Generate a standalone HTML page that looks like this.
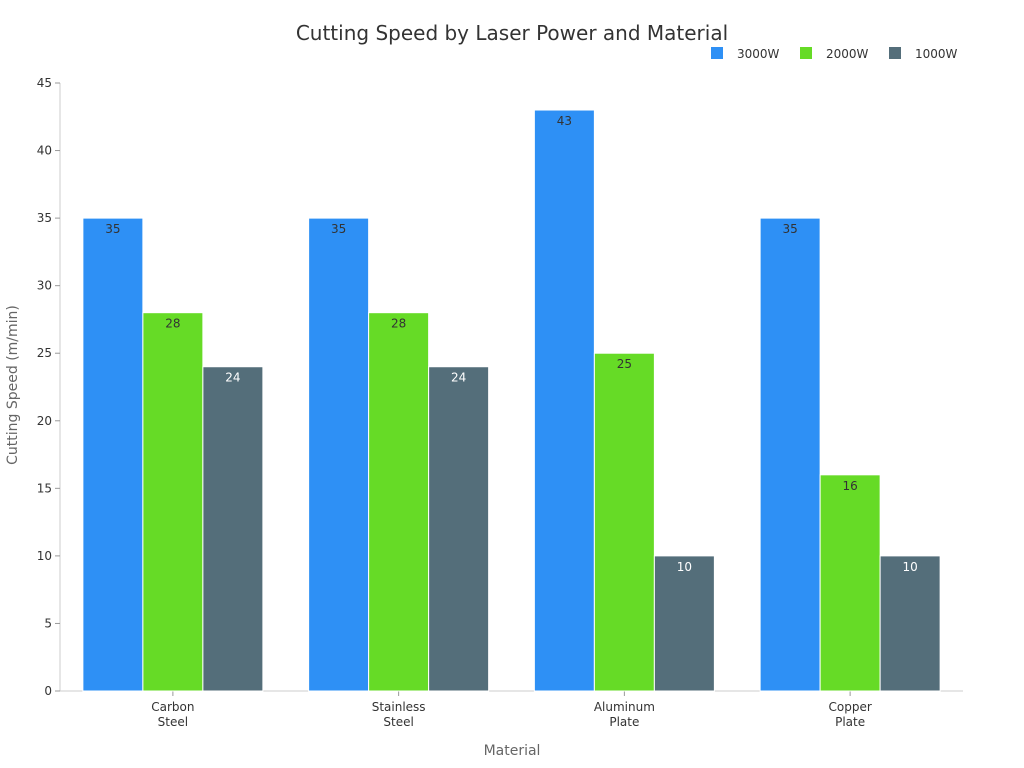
<!DOCTYPE html>
<html><head><meta charset="utf-8"><style>
body{margin:0;background:#fff;}
svg{display:block;font-family:"DejaVu Sans","Liberation Sans",sans-serif;}
</style></head><body>
<svg id="chart" width="1024" height="768">
<text x="512" y="40" text-anchor="middle" font-size="20" fill="#333">Cutting Speed by Laser Power and Material</text>
<g id="legend"></g>
<g id="axes"></g>
<g id="bars"></g>
<text x="512" y="755" text-anchor="middle" font-size="14" fill="#666">Material</text>
<text transform="translate(17,385) rotate(-90)" text-anchor="middle" font-size="14" fill="#666">Cutting Speed (m/min)</text>
</svg>
<script>
const categories=[["Carbon","Steel"],["Stainless","Steel"],["Aluminum","Plate"],["Copper","Plate"]];
const seriesNames=["3000W","2000W","1000W"];
const s3000=[35,35,43,35];
const s2000=[28,28,25,16];
const s1000=[24,24,10,10];
const yTicks=[0,5,10,15,20,25,30,35,40,45];
const colors=["#2E90F5","#66DB26","#546E7A"];
const labelColors=["#333","#333","#fff"];
const NS="http://www.w3.org/2000/svg";
const L=60,R=963,T=83,B=691,yMax=45;
const y=v=>B-(v/yMax)*(B-T);
const band=(R-L)/categories.length;
const barW=60;
function mk(tag,attrs,parent,text){const e=document.createElementNS(NS,tag);for(const k in attrs)e.setAttribute(k,attrs[k]);if(text!==undefined)e.textContent=text;parent.appendChild(e);return e;}
const axes=document.getElementById('axes');
const yl=mk('line',{x1:L,y1:T,x2:L,y2:B,stroke:'#ccc'},axes);


const xl=mk('line',{x1:L,y1:B,x2:R,y2:B,stroke:'#ccc'},axes);


yTicks.forEach(t=>{
  mk('line',{x1:L-5,y1:y(t),x2:L,y2:y(t),stroke:'#999'},axes);
  const tx=mk('text',{x:L-8,y:y(t)+4,'text-anchor':'end','font-size':12,fill:'#333'},axes,t);
  
  
});
const series=[s3000,s2000,s1000];
const bars=document.getElementById('bars');
categories.forEach((c,i)=>{
  const cx=L+band*(i+0.5);
  mk('line',{x1:cx,y1:B,x2:cx,y2:B+5,stroke:'#999'},axes);
  c.forEach((ln,j)=>{
    const tx=mk('text',{x:cx,y:B+20+j*15,'text-anchor':'middle','font-size':12,fill:'#333'},axes,ln);
    
    
  });
  series.forEach((s,k)=>{
    const x0=cx-1.5*barW+k*barW;
    const r=mk('rect',{x:x0,y:y(s[i]),width:barW,height:B-y(s[i]),fill:colors[k],stroke:'#fff','stroke-width':1},bars);
    
    
    const t=mk('text',{x:x0+barW/2,y:y(s[i])+15,'text-anchor':'middle','font-size':12,fill:labelColors[k]},bars,s[i]);
    
    
  });
});
const lg=document.getElementById('legend');
const lx=[711,800,889];
seriesNames.forEach((n,k)=>{
  const g=mk('g',{},lg);
  
  
  mk('rect',{x:lx[k],y:47,width:12,height:12,fill:colors[k]},g);
  mk('text',{x:lx[k]+26,y:58,'font-size':12,fill:'#333'},g,n);
});
</script>
</body></html>
